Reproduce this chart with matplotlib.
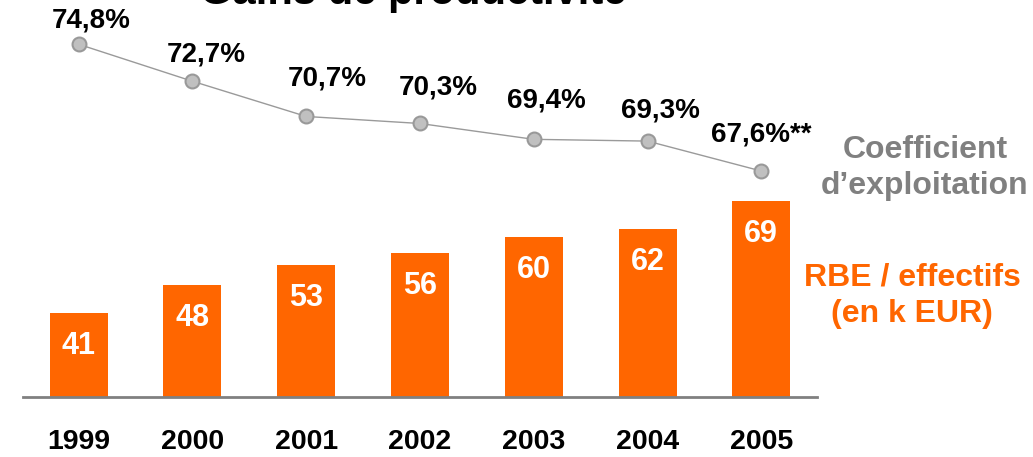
import numpy as np
import matplotlib
matplotlib.use("Agg")
import matplotlib.pyplot as plt

plt.rcParams['font.family'] = ['Liberation Sans', 'DejaVu Sans']
plt.rcParams['font.weight'] = 'bold'

years = ['1999', '2000', '2001', '2002', '2003', '2004', '2005']
rbe_effectifs = [41, 48, 53, 56, 60, 62, 69]          # RBE / effectifs (k EUR)
coef_exploit = [74.8, 72.7, 70.7, 70.3, 69.4, 69.3, 67.6]  # coefficient d'exploitation (%)
coef_labels = ['74,8%', '72,7%', '70,7%', '70,3%', '69,4%', '69,3%', '67,6%**']

orange = '#FF6600'
grey_txt = '#808080'

fig = plt.figure(figsize=(10.33, 4.57), dpi=100)
ax = fig.add_axes([23 / 1033, 60 / 457, 794 / 1033, 397 / 457])
x = np.arange(len(years))

# bars
ax.bar(x, rbe_effectifs, width=0.51, color=orange, zorder=2)
ax.set_xlim(-0.49, 6.49)
ax.set_ylim(20, 20 + 397 / 4)
for xi, v in zip(x, rbe_effectifs):
    ax.annotate(str(v), (xi, v), xytext=(0, -13), textcoords='offset points',
                ha='center', va='top', color='white', fontsize=22, fontweight='bold')

for s in ['top', 'right', 'left']:
    ax.spines[s].set_visible(False)
ax.spines['bottom'].set_color(grey_txt)
ax.spines['bottom'].set_linewidth(2)
ax.set_yticks([])
ax.set_xticks(x)
ax.set_xticklabels(years, fontsize=20.5, fontweight='bold')
ax.tick_params(axis='x', length=0, pad=23)
ax.patch.set_alpha(0)

# line on its own scale
ax2 = ax.twinx()
ax2.set_ylim(54.76, 54.76 + 397 / 17.6)
ax2.plot(x, coef_exploit, color='#9a9a9a', lw=1, marker='o', markersize=10,
         markerfacecolor='#c0c0c0', markeredgecolor='#999999', markeredgewidth=1.5, zorder=3)
ax2.axis('off')
offs = [(9, 17), (10, 19), (15, 27), (13, 26), (9, 28), (9, 22), (0, 26)]
for xi, v, lab, (dx, dy) in zip(x, coef_exploit, coef_labels, offs):
    ax2.annotate(lab, (xi, v), xytext=(dx, dy), textcoords='offset points',
                 ha='center', va='center', fontsize=20, fontweight='bold', color='black')

# side legends
fig.text(925 / 1033, 1 - 168 / 457, 'Coefficient\nd\u2019exploitation', ha='center', va='center',
         fontsize=23, fontweight='bold', color=grey_txt, linespacing=1.3)
fig.text(912 / 1033, 1 - 296 / 457, 'RBE / effectifs\n(en k EUR)', ha='center', va='center',
         fontsize=23, fontweight='bold', color=orange, linespacing=1.3)

# title, partly cut off at the top (as in the original slide)
fig.text(413 / 1033, 1 - 4 / 457, 'Gains de productivit\u00e9', ha='center', va='baseline',
         fontsize=30, fontweight='bold', color='black')

fig.savefig('out.png', dpi=100)
